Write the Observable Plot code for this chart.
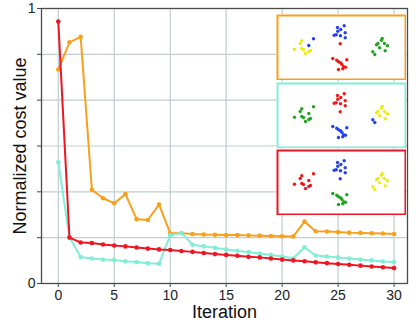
<!DOCTYPE html>
<html><head><meta charset="utf-8">
<script src="https://cdn.jsdelivr.net/npm/d3@7"></script>
<script src="https://cdn.jsdelivr.net/npm/@observablehq/plot@0.6"></script>
<style>
body{margin:0;background:#fff;font-family:"Liberation Sans",Arial,Helvetica,sans-serif}
#wrap{position:relative;width:416px;height:322px;overflow:hidden}
.inset{position:absolute;display:block}
</style></head><body><div id="wrap"></div>
<script>
// ---- main chart data ----
const iterations = [0,1,2,3,4,5,6,7,8,9,10,11,12,13,14,15,16,17,18,19,20,21,22,23,24,25,26,27,28,29,30];
const orangeCost = [0.778,0.877,0.897,0.341,0.310,0.292,0.325,0.234,0.231,0.287,0.183,0.183,0.180,0.178,0.177,0.176,0.176,0.175,0.174,0.173,0.172,0.171,0.225,0.190,0.189,0.187,0.185,0.184,0.183,0.182,0.180];
const cyanCost   = [0.441,0.168,0.096,0.091,0.087,0.085,0.081,0.078,0.074,0.072,0.175,0.184,0.141,0.135,0.130,0.124,0.119,0.114,0.109,0.104,0.098,0.092,0.132,0.102,0.098,0.095,0.091,0.087,0.084,0.080,0.078];
const redCost    = [0.953,0.167,0.149,0.147,0.142,0.138,0.135,0.131,0.127,0.124,0.122,0.118,0.115,0.111,0.107,0.104,0.101,0.097,0.095,0.091,0.087,0.084,0.081,0.077,0.074,0.071,0.068,0.065,0.062,0.059,0.056];
const xTicks = [0,5,10,15,20,25,30];
const yTicks = [0,1/6,2/6,3/6,4/6,5/6,1];
const yTickLabels = ["0","","","","","","1"];

// ---- inset embedding data (shared point layout, per-box cluster colours) ----
const embedX = [60,66.7,63.3,60.3,67.7,56.7,58.7,63,67.7, 62.7,
  24.3,22.7,17,24.3,26,33,31.3,28, 36,31.3,
  104.7,104,100.3,99,107,110,102,107.7, 95.3,97.3,
  55.3,59.3,61,63,64.3,69.3,66,68,61,65.3];
const embedY = [12,10.3,14,15.7,17.3,19.7,19.3,20.3,22.3, 28.3,
  25.3,28,33.7,33,34,35,36,38, 23.3,30,
  23,24.7,28,29.3,28,30.3,32.3,35.3, 36.3,39,
  43,44.7,46.3,47.3,48.7,44.3,51.3,51.7,54,53.3];
const box1Labels = "BBBBBBBBBR"+"YYYYYYYYBB"+"GGGGGGGGGG"+"RRRRRRRRRR";
const box2Labels = "RRRRRRRRRR"+"GGGGGGGGGG"+"YYYYYYYYBB"+"BBBBBBBBBB";
const box3Labels = "BBBBBBBBBB"+"RRRRRRRRRR"+"YYYYYYYYYY"+"GGGGGGGGGG";
const clusterColors = {B:"#2442f2", R:"#f01818", Y:"#ecec14", G:"#24a424"};

const C = {orange:"#f8a01c", cyan:"#80eed6", red:"#ee1622"};

const rows = (vals) => iterations.map((it,i)=>({iter:it, cost:vals[i]}));
const font = '"Liberation Sans",Arial,Helvetica,sans-serif';

const main = Plot.plot({
  width:416, height:322,
  marginLeft:41, marginRight:9, marginTop:8, marginBottom:39,
  style:{fontFamily:font, fontSize:"14px", background:"white", color:"#222"},
  x:{domain:[-1.5,31.2]},
  y:{domain:[0,1]},
  marks:[
    Plot.gridX(xTicks,{stroke:"#c0cece", strokeOpacity:1, strokeWidth:1.2}),
    Plot.gridY(yTicks,{stroke:"#c0cece", strokeOpacity:1, strokeWidth:1.2}),
    Plot.axisX({ticks:xTicks, tickSize:4, tickPadding:3, label:null, fontSize:14, stroke:"#444"}),
    Plot.axisY({ticks:yTicks, tickSize:4, tickPadding:2, label:null, fontSize:14, stroke:"#444",
      tickFormat:(d)=>yTickLabels[yTicks.indexOf(d)]}),
    Plot.frame({stroke:"#4a4a4a", strokeWidth:1.3}),
    Plot.line(rows(orangeCost),{x:"iter", y:"cost", stroke:C.orange, strokeWidth:2}),
    Plot.dot(rows(orangeCost),{x:"iter", y:"cost", fill:C.orange, r:2.3}),
    Plot.line(rows(cyanCost),{x:"iter", y:"cost", stroke:C.cyan, strokeWidth:2}),
    Plot.dot(rows(cyanCost),{x:"iter", y:"cost", fill:C.cyan, r:2.3}),
    Plot.line(rows(redCost),{x:"iter", y:"cost", stroke:C.red, strokeWidth:2}),
    Plot.dot(rows(redCost),{x:"iter", y:"cost", fill:C.red, r:2.3}),
    Plot.text(["Iteration"],{frameAnchor:"bottom", dy:29, lineAnchor:"middle", textAnchor:"middle", fontSize:18, fill:"#111"}),
    Plot.text(["Normalized cost value"],{frameAnchor:"left", dx:-21, rotate:-90, lineAnchor:"middle", textAnchor:"middle", fontSize:18, fill:"#111"})
  ]
});
const wrap = document.getElementById("wrap");
wrap.appendChild(main);

function inset(labels, border, left, top){
  const pts = embedX.map((x,i)=>({x, y:embedY[i], c:clusterColors[labels[i]]}));
  const p = Plot.plot({
    width:130, height:66, margin:1,
    style:{background:"white"},
    x:{domain:[0,128], axis:null},
    y:{domain:[0,64], reverse:true, axis:null},
    marks:[
      Plot.frame({fill:"white"}),
      Plot.dot(pts,{x:"x", y:"y", fill:"c", r:1.7}),
      Plot.frame({stroke:border, strokeWidth:2})
    ]
  });
  p.classList.add("inset");
  p.style.left = left+"px";
  p.style.top = top+"px";
  wrap.appendChild(p);
}
inset(box1Labels, C.orange, 276, 14);
inset(box2Labels, C.cyan, 276, 82);
inset(box3Labels, C.red, 276, 149);
</script></body></html>
